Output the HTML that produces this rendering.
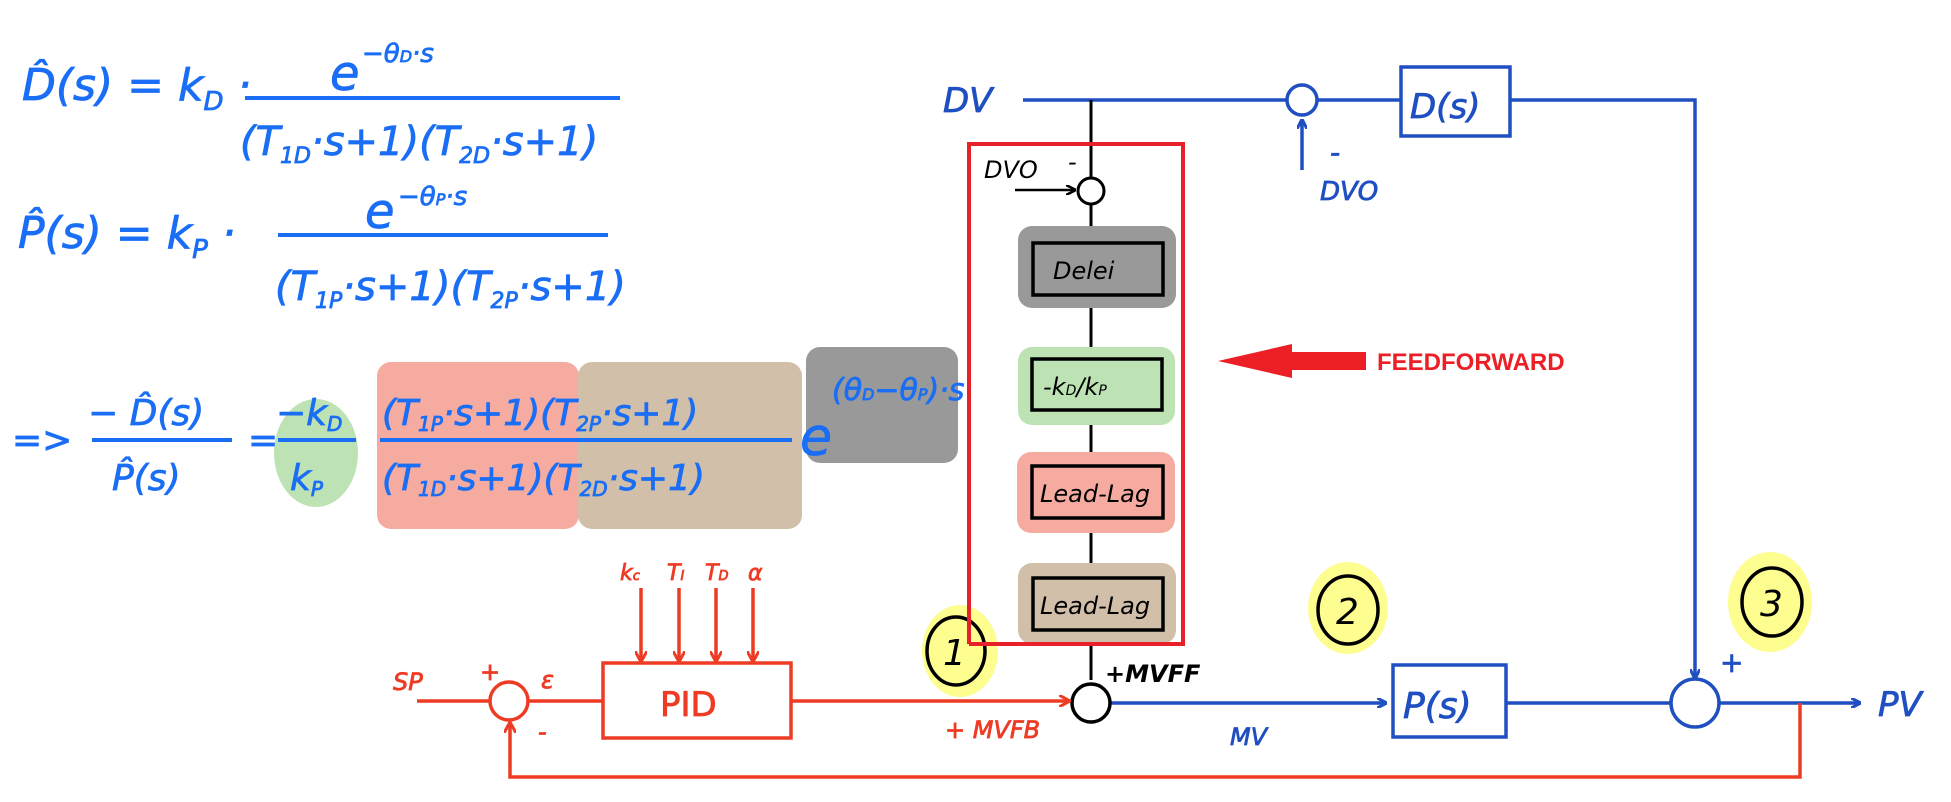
<!DOCTYPE html>
<html><head><meta charset="utf-8"><style>
html,body{margin:0;padding:0;background:#fff;width:1951px;height:802px;overflow:hidden}
svg{display:block}
.h{font-family:"DejaVu Sans","Liberation Sans",sans-serif;font-style:italic}
.bf{stroke:#1a6ef5;stroke-width:0.8}
</style></head><body>
<svg width="1951" height="802" viewBox="0 0 1951 802" xmlns="http://www.w3.org/2000/svg">
<defs>
<marker id="ab" markerWidth="10" markerHeight="10" refX="9" refY="5" orient="auto" markerUnits="userSpaceOnUse"><path d="M0,0 L10,5 L0,10" fill="none" stroke="#1f4fc0" stroke-width="3"/></marker>
<marker id="ar" markerWidth="12" markerHeight="12" refX="11" refY="6" orient="auto" markerUnits="userSpaceOnUse"><path d="M0,0 L11,6 L0,12" fill="none" stroke="#ee3b24" stroke-width="3"/></marker>
<marker id="ak" markerWidth="10" markerHeight="10" refX="9" refY="5" orient="auto" markerUnits="userSpaceOnUse"><path d="M0,0 L10,5 L0,10" fill="none" stroke="#000" stroke-width="2.5"/></marker>
</defs>

<!-- Formulas -->
<g fill="#1a6ef5" class="h bf">
<text x="22" y="100" font-size="44">D̂(s) = k<tspan font-size="26" dy="10">D</tspan><tspan dy="-10"> ·</tspan></text>
<text x="330" y="90" font-size="48">e</text><text x="362" y="62" font-size="26">−θ<tspan font-size="16">D</tspan>·s</text>
<line x1="245" y1="98" x2="620" y2="98" stroke="#1a6ef5" stroke-width="4"/>
<text x="240" y="155" font-size="40">(T<tspan font-size="22" dy="8">1D</tspan><tspan dy="-8">·s+1)(T</tspan><tspan font-size="22" dy="8">2D</tspan><tspan dy="-8">·s+1)</tspan></text>

<text x="18" y="248" font-size="44">P̂(s) = k<tspan font-size="26" dy="10">P</tspan><tspan dy="-10"> ·</tspan></text>
<text x="365" y="228" font-size="48">e</text><text x="398" y="205" font-size="26">−θ<tspan font-size="16">P</tspan>·s</text>
<line x1="278" y1="235" x2="608" y2="235" stroke="#1a6ef5" stroke-width="4"/>
<text x="275" y="300" font-size="40">(T<tspan font-size="22" dy="8">1P</tspan><tspan dy="-8">·s+1)(T</tspan><tspan font-size="22" dy="8">2P</tspan><tspan dy="-8">·s+1)</tspan></text>
</g>

<!-- highlights -->
<ellipse cx="316" cy="453" rx="42" ry="54" fill="#bde3b4"/>
<rect x="377" y="362" width="202" height="167" rx="14" fill="#f6aba1"/>
<rect x="578" y="362" width="224" height="167" rx="14" fill="#d2bfa9"/>
<rect x="806" y="347" width="152" height="116" rx="14" fill="#999"/>

<g fill="#1a6ef5" class="h bf">
<text x="12" y="452" font-size="36">=&gt;</text>
<text x="88" y="425" font-size="36">− D̂(s)</text>
<line x1="92" y1="440" x2="232" y2="440" stroke="#1a6ef5" stroke-width="4"/>
<text x="112" y="490" font-size="36">P̂(s)</text>
<text x="248" y="452" font-size="36">=</text>
<text x="276" y="425" font-size="36">−k<tspan font-size="20" dy="6">D</tspan></text>
<line x1="278" y1="440" x2="356" y2="440" stroke="#1a6ef5" stroke-width="4"/>
<text x="290" y="490" font-size="36">k<tspan font-size="20" dy="6">P</tspan></text>
<line x1="380" y1="440" x2="792" y2="440" stroke="#1a6ef5" stroke-width="4"/>
<text x="382" y="425" font-size="36">(T<tspan font-size="20" dy="6">1P</tspan><tspan dy="-6">·s+1)(T</tspan><tspan font-size="20" dy="6">2P</tspan><tspan dy="-6">·s+1)</tspan></text>
<text x="382" y="490" font-size="36">(T<tspan font-size="20" dy="6">1D</tspan><tspan dy="-6">·s+1)(T</tspan><tspan font-size="20" dy="6">2D</tspan><tspan dy="-6">·s+1)</tspan></text>
<text x="800" y="455" font-size="52">e</text>
<text x="832" y="400" font-size="30">(θ<tspan font-size="16">D</tspan>−θ<tspan font-size="16">P</tspan>)·s</text>
</g>

<!-- DV line -->
<g fill="none" stroke="#1f4fc0" stroke-width="3.5">
<line x1="1023" y1="100" x2="1287" y2="100"/>
<circle cx="1302" cy="100" r="15" fill="#fff"/>
<line x1="1317" y1="100" x2="1401" y2="100"/>
<rect x="1401" y="67" width="109" height="69"/>
<polyline points="1510,100 1695,100 1695,678" marker-end="url(#ab)"/>
<line x1="1302" y1="170" x2="1302" y2="120" marker-end="url(#ab)"/>
<line x1="1110" y1="703" x2="1386" y2="703" marker-end="url(#ab)"/>
<rect x="1393" y="665" width="113" height="72"/>
<line x1="1506" y1="703" x2="1670" y2="703"/>
<circle cx="1695" cy="703" r="24"/>
<line x1="1719" y1="703" x2="1860" y2="703" marker-end="url(#ab)"/>
</g>
<g fill="#1f4fc0" class="h" font-size="34" stroke="#1f4fc0" stroke-width="0.8">
<text x="943" y="112">DV</text>
<text x="1320" y="200" font-size="26">DVO</text>
<text x="1330" y="162" font-size="28">-</text>
<text x="1410" y="118" font-size="34">D(s)</text>
<text x="1403" y="718" font-size="36">P(s)</text>
<text x="1230" y="745" font-size="24">MV</text>
<text x="1878" y="716" font-size="34">PV</text>
<text x="1720" y="672" font-size="28">+</text>
</g>

<!-- black FF chain -->
<line x1="1091" y1="100" x2="1091" y2="680" stroke="#000" stroke-width="3"/>
<rect x="1018" y="226" width="158" height="82" rx="14" fill="#999"/>
<rect x="1018" y="347" width="157" height="78" rx="14" fill="#bde3b4"/>
<rect x="1017" y="452" width="158" height="81" rx="14" fill="#f6aba1"/>
<rect x="1018" y="563" width="158" height="81" rx="14" fill="#d2bfa9"/>
<g fill="none" stroke="#000" stroke-width="3.5">
<rect x="1033" y="243" width="130" height="52"/>
<rect x="1032" y="359" width="130" height="51"/>
<rect x="1032" y="466" width="131" height="52"/>
<rect x="1033" y="578" width="130" height="52"/>
</g>
<circle cx="1091" cy="191" r="13" fill="#fff" stroke="#000" stroke-width="3"/>
<line x1="1015" y1="190" x2="1075" y2="190" stroke="#000" stroke-width="2.5" marker-end="url(#ak)"/>
<circle cx="1091" cy="703" r="19" fill="#fff" stroke="#000" stroke-width="3.5"/>
<g fill="#000" class="h" font-size="24">
<text x="984" y="178">DVO</text>
<text x="1068" y="170">-</text>
<text x="1053" y="279">Delei</text>
<text x="1043" y="395">-k<tspan font-size="14">D</tspan>/k<tspan font-size="14">P</tspan></text>
<text x="1040" y="502">Lead-Lag</text>
<text x="1040" y="614">Lead-Lag</text>
<text x="1105" y="682" font-size="24" font-weight="bold">+MVFF</text>
</g>
<rect x="969" y="144" width="214" height="500" fill="none" stroke="#e8202a" stroke-width="4"/>
<polygon points="1218,361 1292,344 1292,352 1366,352 1366,370 1292,370 1292,378" fill="#ec1f26"/>
<text x="1377" y="370" font-family="Liberation Sans,sans-serif" font-weight="bold" font-size="24" fill="#ec1f26">FEEDFORWARD</text>

<!-- yellow numbers -->
<g>
<ellipse cx="960" cy="651" rx="38" ry="46" fill="#fdfd90"/>
<ellipse cx="956" cy="651" rx="29" ry="34" fill="none" stroke="#000" stroke-width="3.5"/>
<text x="943" y="665" class="h" font-size="36">1</text>
<ellipse cx="1348" cy="608" rx="40" ry="46" fill="#fdfd90"/>
<ellipse cx="1348" cy="610" rx="30" ry="34" fill="none" stroke="#000" stroke-width="3.5"/>
<text x="1336" y="624" class="h" font-size="36">2</text>
<ellipse cx="1770" cy="602" rx="42" ry="50" fill="#fdfd90"/>
<ellipse cx="1772" cy="602" rx="30" ry="34" fill="none" stroke="#000" stroke-width="3.5"/>
<text x="1760" y="616" class="h" font-size="36">3</text>
</g>
<line x1="969" y1="600" x2="969" y2="644" stroke="#e8202a" stroke-width="4"/>
<line x1="969" y1="644" x2="1018" y2="644" stroke="#e8202a" stroke-width="4"/>

<!-- PID loop red -->
<g fill="none" stroke="#ee3b24" stroke-width="3.5">
<line x1="417" y1="701" x2="490" y2="701"/>
<circle cx="509" cy="701" r="19"/>
<line x1="528" y1="701" x2="603" y2="701"/>
<rect x="603" y="663" width="188" height="75"/>
<line x1="791" y1="701" x2="1070" y2="701" marker-end="url(#ar)"/>
<polyline points="1800,703 1800,777 510,777 510,722" marker-end="url(#ar)"/>
<line x1="641" y1="588" x2="641" y2="662" marker-end="url(#ar)"/>
<line x1="679" y1="588" x2="679" y2="662" marker-end="url(#ar)"/>
<line x1="716" y1="588" x2="716" y2="662" marker-end="url(#ar)"/>
<line x1="753" y1="588" x2="753" y2="662" marker-end="url(#ar)"/>
</g>
<g fill="#ee3b24" class="h" font-size="24" stroke="#ee3b24" stroke-width="0.8">
<text x="393" y="690">SP</text>
<text x="480" y="680">+</text>
<text x="541" y="688">ε</text>
<text x="538" y="740">-</text>
<text x="660" y="716" font-size="34" font-style="normal">PID</text>
<text x="620" y="580" font-size="22">k<tspan font-size="13">c</tspan></text>
<text x="667" y="580" font-size="22">T<tspan font-size="13">I</tspan></text>
<text x="705" y="580" font-size="22">T<tspan font-size="13">D</tspan></text>
<text x="748" y="580" font-size="22">α</text>
<text x="945" y="738">+ MVFB</text>
</g>
</svg>
</body></html>
